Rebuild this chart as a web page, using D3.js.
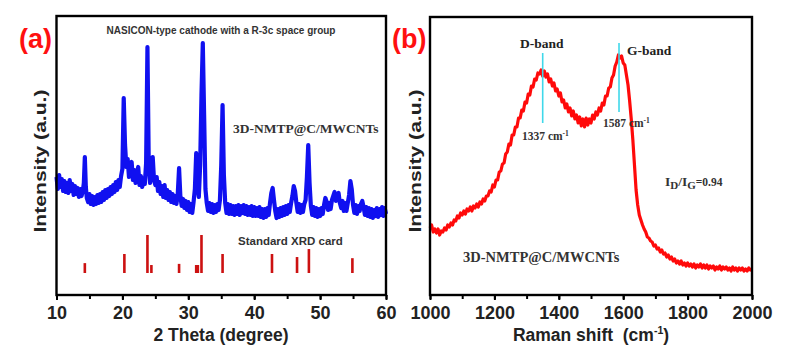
<!DOCTYPE html>
<html><head><meta charset="utf-8">
<script src="https://cdn.jsdelivr.net/npm/d3@7"></script>
<style>body{margin:0;background:#fff}svg{display:block}</style>
</head><body>
<svg id="c" width="796" height="355"></svg>
<script>
// ---- data ----
const xrdTrace = [[10.0,118],[10.2,106],[10.4,120],[10.6,108],[10.8,116],[11.0,104],[11.2,114],[11.4,103],[11.6,112],[11.8,102],[12.0,115],[12.2,104],[12.4,111],[12.6,100],[12.8,109],[13.0,101],[13.2,107],[13.4,98],[13.6,106],[13.8,99],[14.0,104],[14.15,112],[14.3,138],[14.45,108],[14.6,97],[14.8,93],[15.0,101],[15.2,91],[15.4,99],[15.6,90],[15.8,98],[16.0,91],[16.2,100],[16.4,92],[16.6,101],[16.8,93],[17.0,103],[17.2,95],[17.4,105],[17.6,97],[17.8,106],[18.0,99],[18.2,108],[18.4,101],[18.6,110],[18.8,103],[19.0,113],[19.2,105],[19.4,115],[19.6,108],[19.8,119],[20.0,126],[20.2,197],[20.4,150],[20.6,128],[20.8,136],[21.0,118],[21.2,127],[21.4,133],[21.6,115],[21.8,125],[22.0,112],[22.2,121],[22.4,128],[22.6,110],[22.8,119],[23.0,108],[23.2,117],[23.4,111],[23.6,132],[23.8,248],[24.0,130],[24.2,112],[24.4,123],[24.6,138],[24.8,115],[25.0,110],[25.2,118],[25.4,104],[25.6,113],[25.8,101],[26.0,109],[26.2,98],[26.4,110],[26.6,97],[26.8,105],[27.0,95],[27.2,103],[27.4,93],[27.6,101],[27.8,92],[28.0,99],[28.2,91],[28.4,101],[28.6,127],[28.8,98],[29.0,89],[29.2,96],[29.4,87],[29.6,94],[29.8,85],[30.0,93],[30.2,83],[30.4,91],[30.6,82],[30.8,93],[31.0,106],[31.2,142],[31.4,110],[31.6,98],[31.8,130],[32.0,200],[32.2,252],[32.4,180],[32.6,106],[32.8,92],[33.0,84],[33.2,92],[33.4,83],[33.6,91],[33.8,82],[34.0,90],[34.2,83],[34.4,91],[34.6,85],[34.8,95],[35.0,130],[35.2,190],[35.4,120],[35.6,92],[35.8,82],[36.0,91],[36.2,81],[36.4,90],[36.6,81],[36.8,89],[37.0,80],[37.2,89],[37.4,81],[37.6,90],[37.8,80],[38.0,89],[38.2,82],[38.4,90],[38.6,81],[38.8,89],[39.0,80],[39.2,88],[39.4,80],[39.6,89],[39.8,79],[40.0,88],[40.2,79],[40.4,87],[40.6,79],[40.8,88],[41.0,78],[41.2,86],[41.4,77],[41.6,86],[41.8,78],[42.0,87],[42.2,80],[42.4,92],[42.6,102],[42.8,107],[43.0,95],[43.2,84],[43.4,77],[43.6,86],[43.8,78],[44.0,87],[44.2,79],[44.4,88],[44.6,80],[44.8,89],[45.0,81],[45.2,90],[45.4,83],[45.6,92],[45.8,99],[46.0,109],[46.2,104],[46.4,92],[46.6,83],[46.8,91],[47.0,82],[47.2,90],[47.4,83],[47.6,91],[47.8,95],[48.0,118],[48.2,150],[48.4,112],[48.6,89],[48.8,80],[49.0,88],[49.2,79],[49.4,87],[49.6,78],[49.8,86],[50.0,79],[50.2,87],[50.4,81],[50.6,90],[50.8,97],[51.0,93],[51.2,85],[51.4,92],[51.6,86],[51.8,95],[52.0,99],[52.2,103],[52.4,94],[52.6,97],[52.8,102],[53.0,92],[53.2,87],[53.4,94],[53.6,84],[53.8,92],[54.0,84],[54.2,92],[54.4,100],[54.6,114],[54.8,106],[55.0,90],[55.2,82],[55.4,90],[55.6,81],[55.8,89],[56.0,84],[56.2,91],[56.4,94],[56.6,88],[56.8,80],[57.0,88],[57.2,79],[57.4,87],[57.6,78],[57.8,86],[58.0,77],[58.2,85],[58.4,79],[58.6,87],[58.8,78],[59.0,86],[59.2,80],[59.4,88],[59.6,79],[59.8,87],[60.0,81]];

const cardAngles = [14.3, 20.3, 23.8, 24.4, 28.6, 31.2, 31.45, 32.0, 35.2, 42.7, 46.5, 48.3, 54.9];
const cardIntensity = [26, 50, 100, 21, 24, 21, 21, 100, 50, 50, 42, 63, 39];

const ramanTrace = [[1000,67],[1005,70],[1010,63],[1015,66],[1020,62],[1025,66],[1030,60],[1035,64],[1040,63],[1045,67],[1050,65],[1055,70],[1060,68],[1065,72],[1070,70],[1075,75],[1080,74],[1085,79],[1090,77],[1095,82],[1100,80],[1105,84],[1110,81],[1115,86],[1120,84],[1125,88],[1130,84],[1135,89],[1140,87],[1145,91],[1150,88],[1155,93],[1160,91],[1165,96],[1170,94],[1175,99],[1180,99],[1185,104],[1190,103],[1195,110],[1200,108],[1205,115],[1210,115],[1215,123],[1220,124],[1225,131],[1230,132],[1235,141],[1240,143],[1245,151],[1250,150],[1255,160],[1260,160],[1265,168],[1270,168],[1275,177],[1280,177],[1285,185],[1290,184],[1295,193],[1300,192],[1305,201],[1310,200],[1315,209],[1320,208],[1325,216],[1330,215],[1335,222],[1340,221],[1345,225],[1350,219],[1355,224],[1360,218],[1365,221],[1370,213],[1375,216],[1380,209],[1385,212],[1390,204],[1395,206],[1400,199],[1405,202],[1410,193],[1415,195],[1420,187],[1425,191],[1430,183],[1435,187],[1440,179],[1445,184],[1450,176],[1455,180],[1460,172],[1465,178],[1470,169],[1475,176],[1480,168],[1485,177],[1490,170],[1495,176],[1500,172],[1505,180],[1510,176],[1515,183],[1520,180],[1525,187],[1530,184],[1535,192],[1540,190],[1545,199],[1550,199],[1555,207],[1560,208],[1565,217],[1570,220],[1575,229],[1580,233],[1585,240],[1590,237],[1595,239],[1600,232],[1605,230],[1610,220],[1615,210],[1620,194],[1625,176],[1630,155],[1635,130],[1640,105],[1645,90],[1650,80],[1655,75],[1660,70],[1665,66],[1670,63],[1675,58],[1680,57],[1685,54],[1690,53],[1695,49],[1700,50],[1705,46],[1710,47],[1715,43],[1720,45],[1725,41],[1730,42],[1735,38],[1740,40],[1745,36],[1750,38],[1755,34],[1760,36],[1765,32],[1770,34],[1775,31],[1780,34],[1785,30],[1790,32],[1795,29],[1800,32],[1805,29],[1810,31],[1815,28],[1820,31],[1825,27],[1830,30],[1835,28],[1840,31],[1845,27],[1850,30],[1855,27],[1860,30],[1865,26],[1870,29],[1875,27],[1880,29],[1885,25],[1890,28],[1895,26],[1900,29],[1905,25],[1910,28],[1915,26],[1920,28],[1925,25],[1930,27],[1935,24],[1940,28],[1945,25],[1950,27],[1955,24],[1960,27],[1965,25],[1970,27],[1975,24],[1980,26],[1985,24],[1990,27],[1995,25],[2000,26]];

const bandShift = [1350, 1587];
const bandTop = [242, 252];
const bandBottom = [172, 183];
const bandNames = ["D-band", "G-band"];
const bandLabels = ["1337", "1587"];

const xTicksA = [10, 20, 30, 40, 50, 60];
const xTicksB = [1000, 1200, 1400, 1600, 1800, 2000];

// ---- drawing ----
const svg = d3.select("#c");
svg.append("rect").attr("width",796).attr("height",355).attr("fill","#fff");
const SANS = "'Liberation Sans', Arial, sans-serif";
const SERIF = "'Liberation Serif', 'Times New Roman', serif";

function panel(x0, x1, yT, yB, xDom, yDom, major, minorStep) {
  const x = d3.scaleLinear().domain(xDom).range([x0, x1]);
  const y = d3.scaleLinear().domain(yDom).range([yB, yT]);
  const g = svg.append("g");
  const minor = d3.range(xDom[0], xDom[1] + 1e-9, minorStep);
  const axMinor = d3.axisBottom(x).tickValues(minor).tickSize(4).tickFormat("");
  const axMajor = d3.axisBottom(x).tickValues(major).tickSize(5).tickPadding(6).tickFormat(d3.format("d"));
  const gm = g.append("g").attr("transform", `translate(0,${yB})`).call(axMinor);
  const gM = g.append("g").attr("transform", `translate(0,${yB})`).call(axMajor);
  [gm, gM].forEach(a => {
    a.select(".domain").remove();
    a.selectAll("line").attr("stroke", "#000").attr("stroke-width", 2);
  });
  gM.selectAll("text").attr("font-family", SANS).attr("font-weight", "bold")
    .attr("font-size", "18px").attr("fill", "#222");
  return {x, y, g};
}

// Panel A
const A = panel(56.5, 386, 16, 295, [10, 60], [0, 279], xTicksA, 5);
const cardY = d3.scaleLinear().domain([0, 100]).range([273, 235]);
A.g.selectAll("rect.card").data(cardAngles).join("rect")
  .attr("x", d => A.x(d) - 1.3).attr("width", 2.6)
  .attr("y", (d, i) => cardY(cardIntensity[i]))
  .attr("height", (d, i) => cardY(0) - cardY(cardIntensity[i]))
  .attr("fill", "#cc1111");
A.g.append("path").datum(xrdTrace)
  .attr("d", d3.line().x(d => A.x(d[0])).y(d => A.y(d[1])))
  .attr("fill", "none").attr("stroke", "#1010f0").attr("stroke-width", 4.2)
  .attr("stroke-linejoin", "round");
A.g.append("rect").attr("x", 56.5).attr("y", 16).attr("width", 386 - 56.5).attr("height", 295 - 16)
  .attr("fill", "none").attr("stroke", "#000").attr("stroke-width", 2.4);

svg.append("text").attr("x", 221).attr("y", 34).attr("text-anchor", "middle")
  .attr("font-family", SANS).attr("font-weight", "bold").attr("font-size", "10px").attr("fill", "#333")
  .text("NASICON-type cathode with a R-3c space group");
svg.append("text").attr("x", 233).attr("y", 133)
  .attr("font-family", SERIF).attr("font-weight", "bold").attr("font-size", "13.5px").attr("fill", "#333")
  .text("3D-NMTP@C/MWCNTs");
svg.append("text").attr("x", 238).attr("y", 245)
  .attr("font-family", SANS).attr("font-weight", "bold").attr("font-size", "11.5px").attr("fill", "#333")
  .text("Standard XRD card");
svg.append("text").attr("x", 221).attr("y", 341).attr("text-anchor", "middle")
  .attr("font-family", SANS).attr("font-weight", "bold").attr("font-size", "17.5px").attr("fill", "#222")
  .text("2 Theta (degree)");
svg.append("text").attr("transform", "translate(46,161) rotate(-90)").attr("text-anchor", "middle")
  .attr("font-family", SANS).attr("font-weight", "bold").attr("font-size", "17px").attr("fill", "#222")
  .attr("textLength", 143).attr("lengthAdjust", "spacingAndGlyphs")
  .text("Intensity (a.u.)");
svg.append("text").attr("x", 19).attr("y", 48)
  .attr("font-family", SANS).attr("font-weight", "bold").attr("font-size", "27px").attr("fill", "#ff1010")
  .text("(a)");

// Panel B
const B = panel(430, 752, 17, 295, [1000, 2000], [0, 278], xTicksB, 100);
B.g.append("path").datum(ramanTrace)
  .attr("d", d3.line().x(d => B.x(d[0])).y(d => B.y(d[1])))
  .attr("fill", "none").attr("stroke", "#ff0a0a").attr("stroke-width", 3.2)
  .attr("stroke-linejoin", "round");
B.g.selectAll("line.band").data(bandShift).join("line")
  .attr("x1", d => B.x(d)).attr("x2", d => B.x(d))
  .attr("y1", (d, i) => B.y(bandTop[i])).attr("y2", (d, i) => B.y(bandBottom[i]))
  .attr("stroke", "#3fd8ea").attr("stroke-width", 1.6);
B.g.append("rect").attr("x", 430).attr("y", 17).attr("width", 752 - 430).attr("height", 295 - 17)
  .attr("fill", "none").attr("stroke", "#000").attr("stroke-width", 2.4);

svg.append("text").attr("x", B.x(bandShift[0]) - 1).attr("y", 48).attr("text-anchor", "middle")
  .attr("font-family", SERIF).attr("font-weight", "bold").attr("font-size", "13.5px").attr("fill", "#222")
  .text(bandNames[0]);
svg.append("text").attr("x", B.x(bandShift[1]) + 8).attr("y", 55)
  .attr("font-family", SERIF).attr("font-weight", "bold").attr("font-size", "13.5px").attr("fill", "#222")
  .text(bandNames[1]);
[[522, 140], [603, 127]].forEach((p, i) => {
  const t = svg.append("text").attr("x", p[0]).attr("y", p[1])
    .attr("font-family", SERIF).attr("font-weight", "bold").attr("font-size", "11.5px").attr("fill", "#333");
  t.append("tspan").text(bandLabels[i] + " cm");
  t.append("tspan").attr("dy", -4).attr("font-size", "7.5px").text("-1");
});
const ig = svg.append("text").attr("x", 665).attr("y", 186)
  .attr("font-family", SERIF).attr("font-weight", "bold").attr("font-size", "13.5px").attr("fill", "#333");
ig.append("tspan").text("I");
ig.append("tspan").attr("dy", 3).attr("font-size", "11px").text("D");
ig.append("tspan").attr("dy", -3).text("/I");
ig.append("tspan").attr("dy", 3).attr("font-size", "11px").text("G");
ig.append("tspan").attr("dy", -3).attr("font-size", "11.5px").text("=0.94");
svg.append("text").attr("x", 463).attr("y", 262)
  .attr("font-family", SERIF).attr("font-weight", "bold").attr("font-size", "14.5px").attr("fill", "#333")
  .text("3D-NMTP@C/MWCNTs");
const xt = svg.append("text").attr("x", 591).attr("y", 341).attr("text-anchor", "middle")
  .attr("font-family", SANS).attr("font-weight", "bold").attr("font-size", "17.5px").attr("fill", "#222");
xt.append("tspan").text("Raman shift\u00a0 (cm");
xt.append("tspan").attr("dy", -7).attr("font-size", "10.5px").text("-1");
xt.append("tspan").attr("dy", 7).text(")");
svg.append("text").attr("transform", "translate(421,161) rotate(-90)").attr("text-anchor", "middle")
  .attr("font-family", SANS).attr("font-weight", "bold").attr("font-size", "17px").attr("fill", "#222")
  .attr("textLength", 143).attr("lengthAdjust", "spacingAndGlyphs")
  .text("Intensity (a.u.)");
svg.append("text").attr("x", 392).attr("y", 48)
  .attr("font-family", SANS).attr("font-weight", "bold").attr("font-size", "27px").attr("fill", "#ff1010")
  .text("(b)");
</script>
</body></html>
